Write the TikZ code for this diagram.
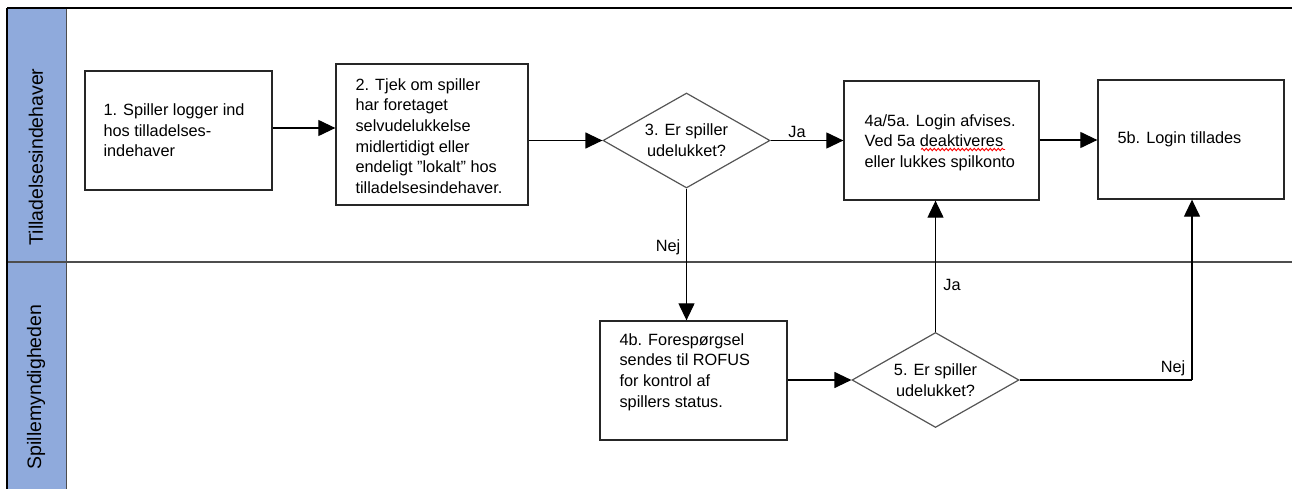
\documentclass[tikz,border=0pt]{standalone}
\usepackage{fontspec}
\setmainfont{Liberation Sans}
\usetikzlibrary{arrows.meta,shapes.geometric,decorations.pathmorphing}
\definecolor{lanefill}{HTML}{8FAADC}
\definecolor{boxline}{HTML}{262626}
\definecolor{dline}{HTML}{555555}
\definecolor{laneline}{HTML}{4D4D4D}
\begin{document}
\begin{tikzpicture}[x=1pt,y=-1pt,
  box/.style={draw=boxline,line width=1.3pt,minimum width=#1,inner sep=0pt},
  box/.default=187pt,
  dec/.style={draw=dline,line width=1.2pt,shape=diamond,minimum width=167pt,minimum height=95pt,inner sep=0pt,aspect=1.76,align=center,font=\fontsize{16.3}{20.8}\selectfont},
  txt/.style={align=left,inner sep=0pt,anchor=west,font=\fontsize{16.3}{20.6}\selectfont},
  lbl/.style={inner sep=0pt,font=\fontsize{16.3}{19}\selectfont},
  lanelbl/.style={rotate=90,inner sep=0pt,font=\fontsize{19.5}{22}\selectfont},
  arr/.style={draw=black,line width=1.2pt,-{Triangle[length=17pt,width=16pt]}},
  ln/.style={draw=black,line width=1.2pt}]
\useasboundingbox (0,0) rectangle (1292,489);
% lanes
\fill[lanefill] (7,8) rectangle (66,489);
\draw[laneline,line width=1pt] (66,8) -- (66,489);
\draw[laneline,line width=1.2pt] (7,262) -- (1292,262);
\draw[black,line width=1.8pt] (7,8) -- (1292,8);
\draw[black,line width=1.5pt] (7,8) -- (7,489);
\node[lanelbl] (lane1) at (36,157) {Tilladelsesindehaver};
\node[lanelbl] (lane2) at (36,387) {Spillemyndigheden};
% boxes
\node[box=187pt,minimum height=119pt] (b1) at (178.5,130.5) {};
\node[txt] (b1t) at ([xshift=19pt]b1.west) {1. Spiller logger ind\\hos tilladelses-\\indehaver};
\node[box=192pt,minimum height=141pt] (b2) at (432,134.5) {};
\node[txt] (b2t) at ([xshift=20pt,yshift=-1.5pt]b2.west) {2. Tjek om spiller\\har foretaget\\selvudelukkelse\\midlertidigt eller\\endeligt "lokalt" hos\\tilladelsesindehaver.};
\node[dec] (d3) at (686.5,140.5) {3. Er spiller\\udelukket?};
\node[box=195pt,minimum height=119pt] (b4a) at (941.5,140.5) {};
\node[txt] (b4at) at ([xshift=21pt,yshift=-2pt]b4a.west) {4a/5a. Login afvises.\\Ved 5a deaktiveres\\eller lukkes spilkonto};
\node[box=186pt,minimum height=119pt] (b5b) at (1191,139.5) {};
\node[txt] (b5bt) at ([xshift=20pt]b5b.west) {5b. Login tillades};
\node[box=187pt,minimum height=119pt] (b4b) at (693.5,380.5) {};
\node[txt] (b4bt) at ([xshift=20pt]b4b.west) {4b. Forespørgsel\\sendes til ROFUS\\for kontrol af\\spillers status.\\\mbox{}};
\node[dec] (d5) at (935.5,380) {5. Er spiller\\udelukket?};
% spell-check squiggle
\draw[red,line width=0.9pt,decorate,decoration={snake,amplitude=1.2pt,segment length=4pt}] (921,149.5) -- (1005,149.5);
% connectors
\draw[arr] (b1.east |- 0,128) -- (b2.west |- 0,128);
\draw[arr] (b2.east |- d3.west) -- (d3.west);
\draw[arr] (d3.east) -- (b4a.west |- d3.east);
\node[lbl] (ja1) at (797,132) {Ja};
\draw[arr] (b4a.east |- 0,140) -- (b5b.west |- 0,140);
\draw[arr] (d3.south) -- (d3.south |- b4b.north);
\node[lbl] (nej1) at (668,247) {Nej};
\draw[arr] (b4b.east |- d5.west) -- (d5.west);
\draw[arr] (d5.north) -- (d5.north |- b4a.south);
\node[lbl] (ja2) at (952,285) {Ja};
\coordinate (c5) at (1192,380);
\draw[ln] (d5.east) -- (c5);
\draw[arr] (c5) -- (c5 |- b5b.south);
\node[lbl] (nej2) at (1173,368) {Nej};
\end{tikzpicture}
\end{document}
